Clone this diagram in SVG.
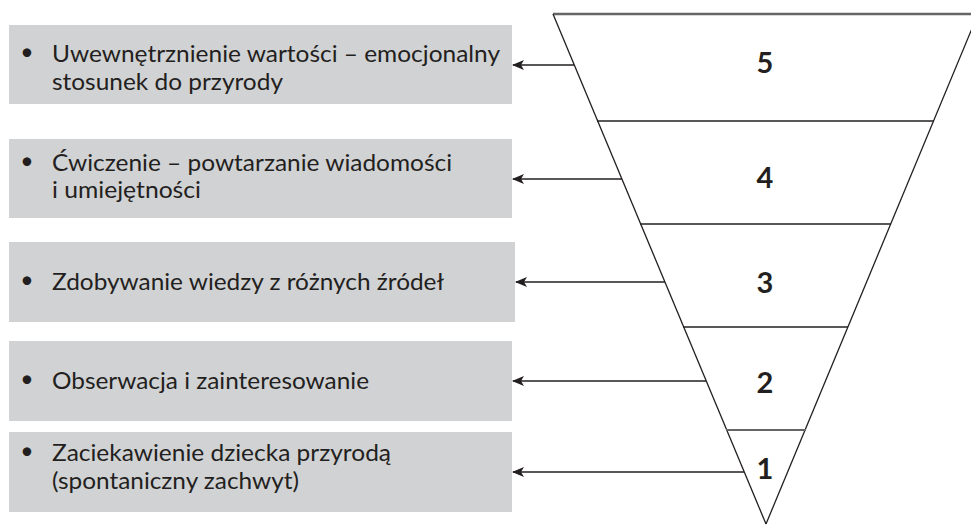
<svg xmlns="http://www.w3.org/2000/svg" width="971" height="526" viewBox="0 0 971 526">
<defs>
<style>
.box{fill:#d1d2d4}
.t{font-family:Lato,"Liberation Sans",sans-serif;font-size:23px;fill:#231f20}
.b{font-family:Lato,"Liberation Sans",sans-serif;font-size:23px;fill:#231f20;text-anchor:middle}
.n{font-family:Lato,"Liberation Sans",sans-serif;font-size:29px;font-weight:bold;fill:#231f20;text-anchor:middle}
.edge{stroke:#231f20;stroke-width:1.3;fill:none}
.div{stroke:#231f20;stroke-width:1.5}
.arr{stroke:#231f20;stroke-width:1.3;fill:none;marker-end:url(#ah)}
</style>
<marker id="ah" markerWidth="12" markerHeight="10" refX="11" refY="5" orient="auto" markerUnits="userSpaceOnUse">
<path d="M0,0 L12,5 L0,10 L3,5 Z" fill="#231f20"/>
</marker>
</defs>
<g id="pyramid">
<line x1="553" y1="14" x2="971" y2="14" stroke="#666" stroke-width="2.5"/>
<line class="edge" x1="553" y1="14" x2="766" y2="524"/>
<line class="edge" x1="978" y1="14" x2="766" y2="524"/>
<line class="div" x1="597" y1="121" x2="934" y2="121"/>
<line class="div" x1="640" y1="224" x2="891" y2="224"/>
<line class="div" x1="683" y1="327" x2="848" y2="327"/>
<line x1="726" y1="430" x2="806" y2="430" stroke="#666" stroke-width="2"/>
<text class="n" x="765" y="73">5</text>
<text class="n" x="765" y="188">4</text>
<text class="n" x="765" y="293">3</text>
<text class="n" x="765" y="393">2</text>
<text class="n" x="765" y="479">1</text>
</g>
<g id="node5">
<rect class="box" x="9" y="25" width="503" height="79"/>
<text class="b" x="27" y="60">•</text>
<text class="t" x="52" y="62" textLength="448" lengthAdjust="spacingAndGlyphs">Uwewnętrznienie wartości – emocjonalny</text>
<text class="t" x="52" y="90" textLength="231" lengthAdjust="spacingAndGlyphs">stosunek do przyrody</text>
</g>
<g id="node4">
<rect class="box" x="9" y="139" width="503" height="79"/>
<text class="b" x="27" y="169">•</text>
<text class="t" x="52" y="171" textLength="400" lengthAdjust="spacingAndGlyphs">Ćwiczenie – powtarzanie wiadomości</text>
<text class="t" x="52" y="198" textLength="149" lengthAdjust="spacingAndGlyphs">i umiejętności</text>
</g>
<g id="node3">
<rect class="box" x="9" y="242" width="506" height="80"/>
<text class="b" x="27" y="288">•</text>
<text class="t" x="52" y="290" textLength="392" lengthAdjust="spacingAndGlyphs">Zdobywanie wiedzy z różnych źródeł</text>
</g>
<g id="node2">
<rect class="box" x="9" y="341" width="503" height="80"/>
<text class="b" x="27" y="387">•</text>
<text class="t" x="52" y="389" textLength="317" lengthAdjust="spacingAndGlyphs">Obserwacja i zainteresowanie</text>
</g>
<g id="node1">
<rect class="box" x="9" y="432" width="503" height="80"/>
<text class="b" x="27" y="459">•</text>
<text class="t" x="52" y="461" textLength="339" lengthAdjust="spacingAndGlyphs">Zaciekawienie dziecka przyrodą</text>
<text class="t" x="52" y="489" textLength="247" lengthAdjust="spacingAndGlyphs">(spontaniczny zachwyt)</text>
</g>
<g id="connectors">
<line class="arr" x1="574" y1="65" x2="513" y2="65"/>
<line class="arr" x1="622" y1="179" x2="513" y2="179"/>
<line class="arr" x1="665" y1="282" x2="516" y2="282"/>
<line class="arr" x1="706" y1="381" x2="513" y2="381"/>
<line class="arr" x1="744" y1="472" x2="513" y2="472"/>
</g>
</svg>
